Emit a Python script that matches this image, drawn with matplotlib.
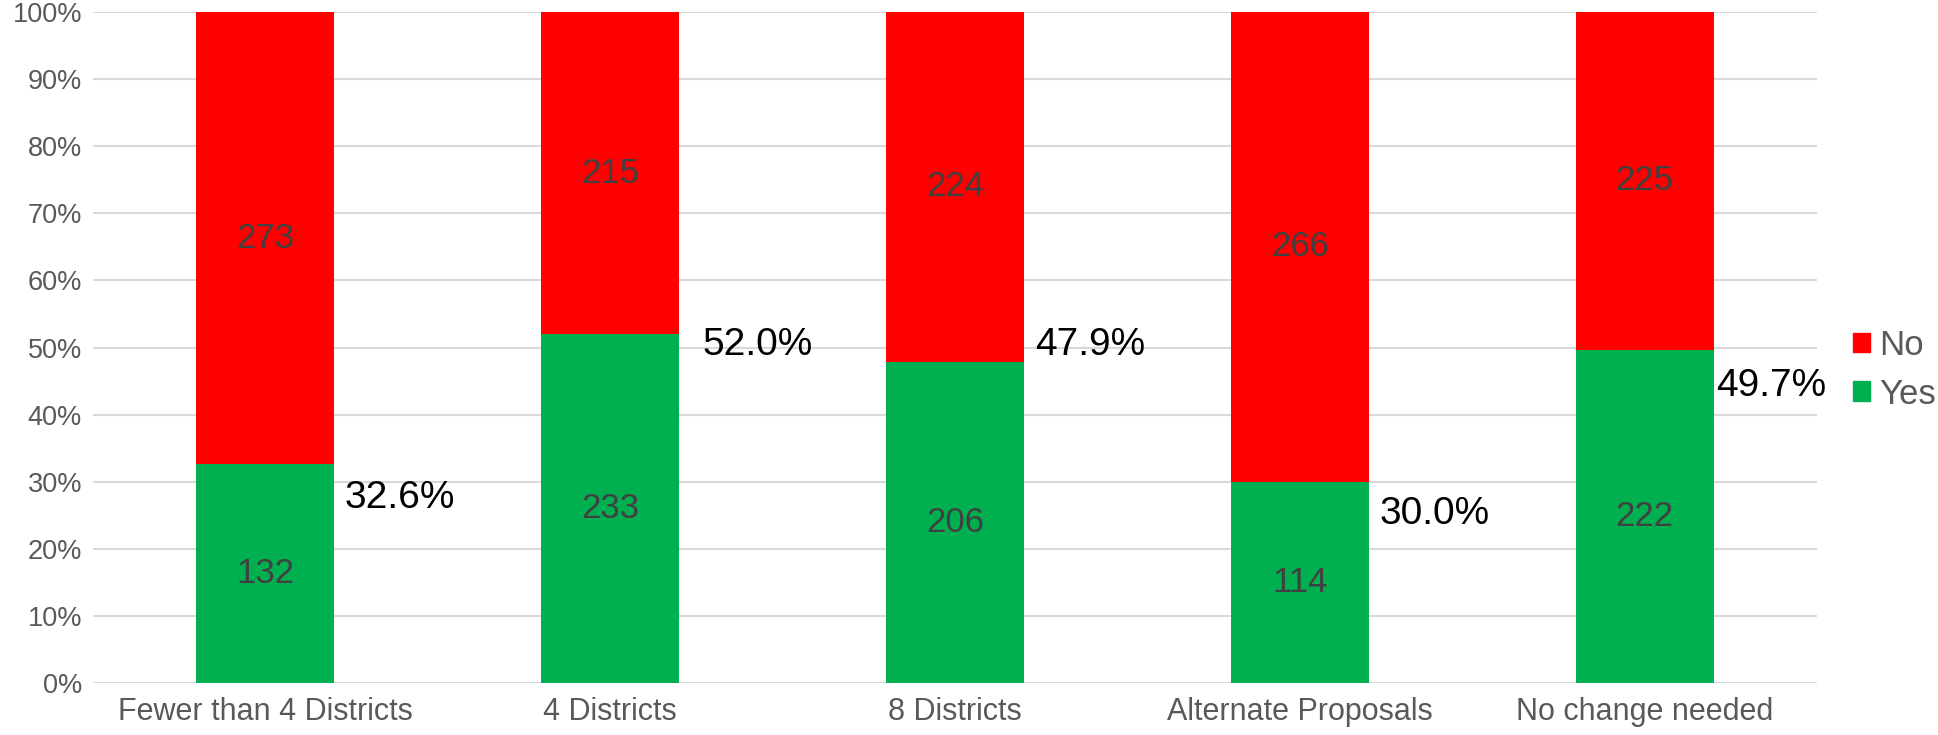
import numpy as np
import matplotlib.pyplot as plt
from matplotlib.patches import Patch

categories = ['Fewer than 4 Districts', '4 Districts', '8 Districts',
              'Alternate Proposals', 'No change needed']
yes_counts = [132, 233, 206, 114, 222]
no_counts = [273, 215, 224, 266, 225]
yes_labels = ['32.6%', '52.0%', '47.9%', '30.0%', '49.7%']

# hand-placed offsets (points) for the percentage labels
pct_dx = [7, 17, 8, 8, 2]
pct_dy = [-24, -8, 12, -23, -26]

plt.rcParams['font.family'] = ['Liberation Sans', 'DejaVu Sans']

green = '#00B050'
red = '#FF0000'

yes = np.array(yes_counts, dtype=float)
no = np.array(no_counts, dtype=float)
total = yes + no
yes_pct = yes / total * 100
no_pct = no / total * 100

fig = plt.figure(figsize=(19.38, 7.35), dpi=100)
ax = fig.add_axes([0.048, 0.0707, 0.8896, 0.913])

x = np.arange(len(categories))
w = 0.4
ax.bar(x, yes_pct, w, color=green, edgecolor='none', zorder=3)
ax.bar(x, no_pct, w, bottom=yes_pct, color=red, edgecolor='none', zorder=3)

for i in range(len(x)):
    ax.text(x[i], yes_pct[i] / 2, str(yes_counts[i]), ha='center', va='center',
            fontsize=25, color='#404040', zorder=4)
    ax.text(x[i], yes_pct[i] + no_pct[i] / 2, str(no_counts[i]), ha='center',
            va='center', fontsize=25, color='#404040', zorder=4)
    ax.annotate(yes_labels[i], (x[i] + w / 2, yes_pct[i]),
                xytext=(pct_dx[i], pct_dy[i]), textcoords='offset points',
                ha='left', va='center', fontsize=28, color='black', zorder=4)

ax.set_xlim(-0.5, len(categories) - 0.5)
ax.set_ylim(0, 100)
ax.set_yticks(np.arange(0, 101, 10))
ax.set_yticklabels([f'{v}%' for v in range(0, 101, 10)])
ax.set_xticks(x)
ax.set_xticklabels(categories)
ax.tick_params(axis='y', length=0, labelsize=19.5, colors='#595959', pad=8)
ax.tick_params(axis='x', length=0, labelsize=22, colors='#595959', pad=10)
ax.grid(axis='y', color='#D9D9D9', linewidth=1.5, zorder=0)
for s in ax.spines.values():
    s.set_visible(False)

handles = [Patch(color=red, label='No'), Patch(color=green, label='Yes')]
fig.legend(handles=handles, loc='center left', bbox_to_anchor=(0.956, 0.497),
           frameon=False, fontsize=25, handlelength=0.5, handleheight=0.5,
           handletextpad=0.25, labelspacing=0.45, labelcolor='#595959',
           borderaxespad=0, borderpad=0)

fig.savefig('out.png', dpi=100)
